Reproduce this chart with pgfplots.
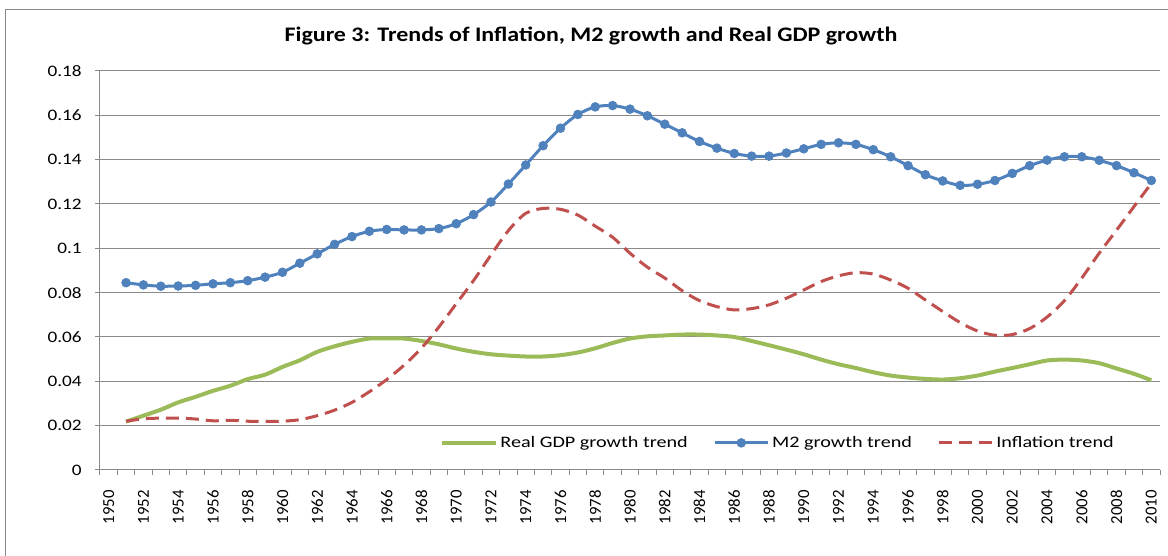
\documentclass[border=0pt]{standalone}
\usepackage{fontspec}
\setmainfont{Carlito}
\newfontfamily\titlefont{Carlito}[FakeStretch=1.16]
\newfontfamily\ylabfont{Carlito}[FakeStretch=1.2]
\newfontfamily\legfont{Carlito}[FakeStretch=1.26]
\usepackage{pgfplots}
\usepackage{pgfplotstable}
\pgfplotsset{compat=1.18}
\definecolor{m2blue}{HTML}{4F81BD}
\definecolor{gdpgreen}{HTML}{9BBB59}
\definecolor{infred}{HTML}{C0504D}
\definecolor{gridgray}{HTML}{8A8A8A}

\pgfplotstableread{
year gdp m2 inf
1951 0.0218 0.0845 0.0220
1952 0.0245 0.0835 0.0231
1953 0.0272 0.0829 0.0234
1954 0.0305 0.0830 0.0234
1955 0.0330 0.0833 0.0230
1956 0.0357 0.0840 0.0222
1957 0.0380 0.0845 0.0224
1958 0.0410 0.0854 0.0220
1959 0.0430 0.0870 0.0219
1960 0.0465 0.0892 0.0220
1961 0.0495 0.0933 0.0227
1962 0.0533 0.0975 0.0245
1963 0.0558 0.1018 0.0270
1964 0.0578 0.1053 0.0305
1965 0.0593 0.1077 0.0353
1966 0.0594 0.1085 0.0408
1967 0.0593 0.1083 0.0473
1968 0.0582 0.1083 0.0550
1969 0.0567 0.1089 0.0645
1970 0.0548 0.1111 0.0750
1971 0.0533 0.1152 0.0855
1972 0.0522 0.1209 0.0970
1973 0.0516 0.1290 0.1080
1974 0.0512 0.1376 0.1158
1975 0.0512 0.1463 0.1180
1976 0.0518 0.1542 0.1176
1977 0.0530 0.1604 0.1150
1978 0.0549 0.1638 0.1100
1979 0.0573 0.1644 0.1050
1980 0.0593 0.1628 0.0978
1981 0.0603 0.1598 0.0915
1982 0.0607 0.1560 0.0866
1983 0.0611 0.1521 0.0809
1984 0.0611 0.1482 0.0764
1985 0.0607 0.1452 0.0737
1986 0.0600 0.1428 0.0722
1987 0.0582 0.1416 0.0728
1988 0.0563 0.1416 0.0745
1989 0.0543 0.1430 0.0775
1990 0.0522 0.1449 0.0812
1991 0.0498 0.1469 0.0850
1992 0.0477 0.1476 0.0876
1993 0.0460 0.1469 0.0890
1994 0.0441 0.1445 0.0884
1995 0.0426 0.1413 0.0857
1996 0.0417 0.1373 0.0820
1997 0.0411 0.1332 0.0767
1998 0.0408 0.1304 0.0715
1999 0.0414 0.1284 0.0665
2000 0.0426 0.1289 0.0627
2001 0.0444 0.1306 0.0608
2002 0.0460 0.1338 0.0611
2003 0.0477 0.1373 0.0638
2004 0.0494 0.1398 0.0690
2005 0.0498 0.1413 0.0764
2006 0.0494 0.1413 0.0866
2007 0.0482 0.1397 0.0978
2008 0.0458 0.1373 0.1082
2009 0.0434 0.1341 0.1188
2010 0.0405 0.1306 0.1293
}\datatable

\begin{document}
\begin{tikzpicture}[x=0.75pt,y=0.75pt]
\useasboundingbox (0,0) rectangle (1168,556);
\draw[gridgray, line width=0.75pt] (5,0) -- (5,546) -- (1168,546);
\node[font=\fontsize{15.5pt}{18pt}\titlefont\bfseries] at (591,520) {Figure 3: Trends of Inflation, M2 growth and Real GDP growth};
\begin{axis}[
  at={(75pt,64.5pt)}, anchor=south west,
  scale only axis, width=795pt, height=299.25pt,
  xmin=1949.5, xmax=2010.5, ymin=0, ymax=0.18,
  axis x line*=bottom, axis y line*=left,
  axis line style={gridgray, line width=0.75pt, -},
  xtick={1950,1952,...,2010},
  minor xtick={1949.5,1950.5,...,2010.5},
  major x tick style={draw=none},
  minor x tick style={gridgray, line width=0.75pt},
  major y tick style={gridgray, line width=0.75pt},
  tick align=outside,
  major tick length=3.75pt, minor tick length=3.75pt,
  ytick={0,0.02,0.04,0.06,0.08,0.1,0.12,0.14,0.16,0.18},
  yticklabels={0,0.02,0.04,0.06,0.08,0.1,0.12,0.14,0.16,0.18},
  ymajorgrids, grid style={gridgray, line width=0.75pt},
  /pgf/number format/assume math mode=true,
  /pgf/number format/1000 sep={},
  xticklabel style={yshift=-8pt, rotate=90, anchor=east, font=\fontsize{12.6pt}{14pt}\selectfont},
  yticklabel style={xshift=-6.5pt, font=\fontsize{12pt}{14pt}\ylabfont},
  legend columns=3,
  legend style={at={(0.64,0.068)}, anchor=center, draw=none, fill=none,
    font=\fontsize{12pt}{14pt}\legfont,
    /tikz/every even column/.append style={column sep=17pt}},
  legend image code/.code={\draw[mark repeat=2,mark phase=2,#1] plot coordinates {(0pt,0pt) (20pt,0pt) (40pt,0pt)};},
]
\addplot[gdpgreen, line width=3pt, smooth, no markers] table[x=year,y=gdp] {\datatable};
\addlegendentry{Real GDP growth trend}
\addplot[m2blue, line width=2.25pt, smooth, mark=*, mark size=3.3pt, mark options={solid, line width=0.5pt}] table[x=year,y=m2] {\datatable};
\addlegendentry{M2 growth trend}
\addplot[infred, line width=2.25pt, smooth, dash pattern=on 9.75pt off 5.25pt, no markers] table[x=year,y=inf] {\datatable};
\addlegendentry{Inflation trend}
\end{axis}
\end{tikzpicture}
\end{document}
